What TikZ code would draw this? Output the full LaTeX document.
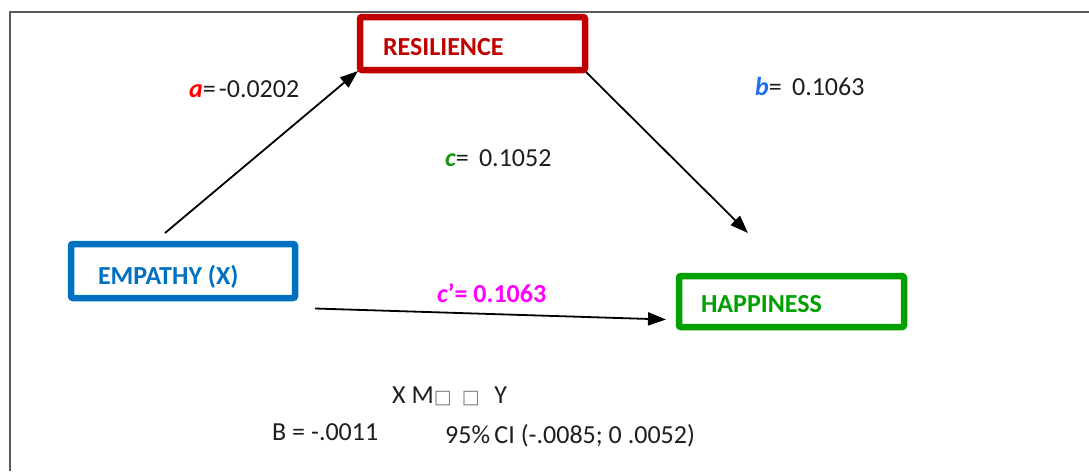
\documentclass[tikz,border=0pt]{standalone}
\usepackage{fontspec}
\setmainfont{Carlito}
\newfontfamily\symfont{DejaVu Sans}
\usetikzlibrary{arrows.meta}
\definecolor{resred}{RGB}{192,0,0}
\definecolor{empblue}{RGB}{0,112,192}
\definecolor{hapgreen}{RGB}{0,160,0}
\definecolor{lblred}{RGB}{255,0,0}
\definecolor{lblblue}{RGB}{30,110,240}
\definecolor{lblgreen}{RGB}{20,150,20}
\definecolor{lblmag}{RGB}{255,0,255}
\definecolor{txt}{RGB}{30,30,30}
\definecolor{framegray}{RGB}{90,90,90}
\tikzset{
  varbox/.style={draw=#1, line width=6.5pt, rounded corners=2pt, text=#1,
    font=\fontsize{26}{30}\selectfont\bfseries, align=left, inner ysep=0pt, outer sep=0pt},
  lbl/.style={anchor=base west, inner sep=0pt, text=txt, font=\fontsize{26}{30}\selectfont},
  conn/.style={line width=1.8pt, -{Triangle[length=18pt,width=13pt]}}
}
\begin{document}
\begin{tikzpicture}[x=1pt,y=-1pt]
\useasboundingbox (0,0) rectangle (1089,471);
% frame
\draw[framegray, line width=1.6pt] (10,471) -- (10,12) -- (1089,12);
% boxes
\node[varbox=resred, minimum width=225pt, minimum height=53pt, inner xsep=23pt,
      text width=179pt, text height=23pt, text depth=0pt] (res) at (472.5,43.5) {RESILIENCE};
\node[varbox=empblue, minimum width=224pt, minimum height=54pt, inner xsep=27pt,
      text width=170pt, text height=26pt, text depth=0pt] (emp) at (183,271) {EMPATHY\hspace{6pt}(X)};
\node[varbox=hapgreen, minimum width=225pt, minimum height=51pt, inner xsep=22pt,
      text width=181pt, text height=21pt, text depth=0pt] (hap) at (791.5,301.5) {HAPPINESS};
% connector ends
\coordinate (aS) at (165,233);
\coordinate (aE) at (358,71);
\coordinate (bS) at (586,72);
\coordinate (bE) at (748,233);
\coordinate (cS) at (315,308.5);
\coordinate (cE) at (666,319.5);
\draw[conn] (aS) -- (aE);
\draw[conn] (bS) -- (bE);
\draw[conn] (cS) -- (cE);
% labels
\node[lbl] (la) at (189,97) {\textcolor{lblred}{\bfseries\itshape a}=\hspace{3pt}-0.0202};
\node[lbl] (lb) at (755,95) {\textcolor{lblblue}{\bfseries\itshape b}= \,0.1063};
\node[lbl] (lc) at (445,166) {\textcolor{lblgreen}{\bfseries\itshape c}= \,0.1052};
\node[lbl, text=lblmag, font=\fontsize{26}{30}\selectfont\bfseries] (lcp) at (437,302) {\itshape c\upshape\char"0027= 0.1063};
\node[lbl] (lxm) at (392,403) {X M{\symfont\color{gray}\fontsize{19}{20}\selectfont □} \,{\symfont\color{gray}\fontsize{19}{20}\selectfont □}\, \,Y};
\node[lbl] (lB) at (272,440) {B = -.0011};
\node[lbl] (lci) at (445,443) {95\%\,CI (-.0085; 0 .0052)};
\end{tikzpicture}
\end{document}
